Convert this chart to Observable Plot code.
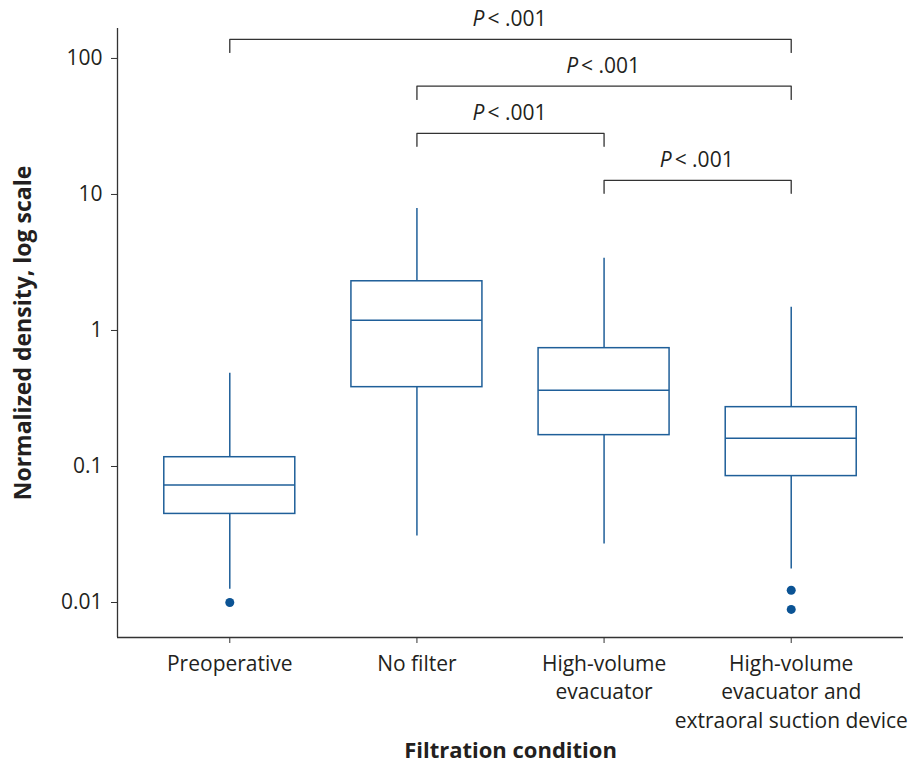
<!DOCTYPE html>
<html>
<head>
<meta charset="utf-8">
<script src="https://cdn.jsdelivr.net/npm/d3@7"></script>
<script src="https://cdn.jsdelivr.net/npm/@observablehq/plot@0.6"></script>
<style>
  html, body { margin: 0; padding: 0; background: #fff; }
  #chart { width: 918px; height: 765px; }
</style>
</head>
<body>
<div id="chart"></div>
<script>
// ---- data ----
const categories = [
  "Preoperative",
  "No filter",
  "High-volume evacuator",
  "High-volume evacuator and extraoral suction device"
];
const tickLabels = [
  "Preoperative",
  "No filter",
  "High-volume\nevacuator",
  "High-volume\nevacuator and\nextraoral suction device"
];
const whiskerLow  = [0.0125, 0.0308, 0.0269, 0.0176];
const q1          = [0.0448, 0.383, 0.170, 0.085];
const median      = [0.073, 1.19, 0.364, 0.161];
const q3          = [0.117, 2.30, 0.741, 0.273];
const whiskerHigh = [0.485, 7.9, 3.40, 1.48];

const outlierCategory = [
  "Preoperative",
  "High-volume evacuator and extraoral suction device",
  "High-volume evacuator and extraoral suction device"
];
const outlierValue = [0.0100, 0.0123, 0.0089];

const bracketFrom  = ["Preoperative", "No filter", "No filter", "High-volume evacuator"];
const bracketTo    = [
  "High-volume evacuator and extraoral suction device",
  "High-volume evacuator and extraoral suction device",
  "High-volume evacuator",
  "High-volume evacuator and extraoral suction device"
];
const bracketLevel = [137.9, 62.6, 28.1, 12.7];
const bracketEnd   = [110.7, 50.0, 22.6, 10.2];
const pSymbol      = ["P", "P", "P", "P"];
const pText        = ["< .001", "< .001", "< .001", "< .001"];

const yTicks = [0.01, 0.1, 1, 10, 100];
const yLabel = "Normalized density, log scale";
const xLabel = "Filtration condition";

// ---- tables built from the arrays ----
const idx = (c) => categories.indexOf(c);
const boxes = categories.map((c, i) => ({
  i, lo: whiskerLow[i], q1: q1[i], med: median[i], q3: q3[i], hi: whiskerHigh[i]
}));
const outliers = outlierCategory.map((c, k) => ({i: idx(c), v: outlierValue[k]}));
const brackets = bracketFrom.map((f, k) => ({
  id: k, a: idx(f), b: idx(bracketTo[k]), level: bracketLevel[k], end: bracketEnd[k],
  p: pSymbol[k], t: pText[k]
}));
const bracketPts = brackets.flatMap(d => [
  {id: d.id, x: d.a, y: d.end},
  {id: d.id, x: d.a, y: d.level},
  {id: d.id, x: d.b, y: d.level},
  {id: d.id, x: d.b, y: d.end}
]);

const boxColor = "#1f5f99";
const dotColor = "#0b5394";
const ink = "#231f20";
const half = 0.35;
const xDomain = [-0.6, 3.6];
const yDomain = [0.00553, 166];

const chart = Plot.plot({
  width: 918,
  height: 765,
  marginLeft: 117,
  marginRight: 15,
  marginTop: 28,
  marginBottom: 128,
  style: {fontFamily: "'Open Sans', sans-serif", fontSize: "21px", color: ink, background: "#fff"},
  x: {type: "linear", domain: xDomain},
  y: {type: "log", domain: yDomain},
  marks: [
    // axes
    Plot.axisY({ticks: yTicks, tickFormat: d => String(d), tickSize: 6, tickPadding: 9,
                fontSize: 21, label: null, stroke: "#333"}),
    Plot.axisX({ticks: [0, 1, 2, 3], tickFormat: i => tickLabels[i], tickSize: 6, tickPadding: 7,
                fontSize: 21, lineHeight: 1.36, label: null, stroke: "#333"}),
    Plot.ruleX([xDomain[0]], {stroke: "#333", strokeWidth: 1.3}),
    Plot.ruleY([yDomain[0]], {stroke: "#333", strokeWidth: 1.3}),
    Plot.text([yLabel], {frameAnchor: "left", textAnchor: "middle", rotate: -90, dx: -94,
                         fontWeight: "bold", fontSize: 23, fill: ink}),
    Plot.text([xLabel], {frameAnchor: "bottom", dy: 120, lineAnchor: "bottom", fontWeight: "bold",
                         fontSize: 22, fill: ink}),
    // whiskers
    Plot.ruleX(boxes, {x: "i", y1: "q3", y2: "hi", stroke: boxColor, strokeWidth: 1.5}),
    Plot.ruleX(boxes, {x: "i", y1: "lo", y2: "q1", stroke: boxColor, strokeWidth: 1.5}),
    // boxes
    Plot.rect(boxes, {x1: d => d.i - half, x2: d => d.i + half, y1: "q1", y2: "q3",
                      fill: "white", stroke: boxColor, strokeWidth: 1.5}),
    Plot.ruleY(boxes, {y: "med", x1: d => d.i - half, x2: d => d.i + half,
                       stroke: boxColor, strokeWidth: 1.5}),
    // outliers
    Plot.dot(outliers, {x: "i", y: "v", r: 4.5, fill: dotColor, stroke: null}),
    // significance brackets
    Plot.line(bracketPts, {x: "x", y: "y", z: "id", stroke: "#333", strokeWidth: 1.3, curve: "linear"}),
    Plot.text(brackets, {x: d => (d.a + d.b) / 2, y: "level", text: "p", fontStyle: "italic",
                         textAnchor: "end", dx: -26, dy: -13, lineAnchor: "bottom", fontSize: 21, fill: ink}),
    Plot.text(brackets, {x: d => (d.a + d.b) / 2, y: "level", text: "t",
                         textAnchor: "start", dx: -23, dy: -13, lineAnchor: "bottom", fontSize: 21, fill: ink})
  ]
});
document.getElementById("chart").appendChild(chart);
</script>
</body>
</html>
